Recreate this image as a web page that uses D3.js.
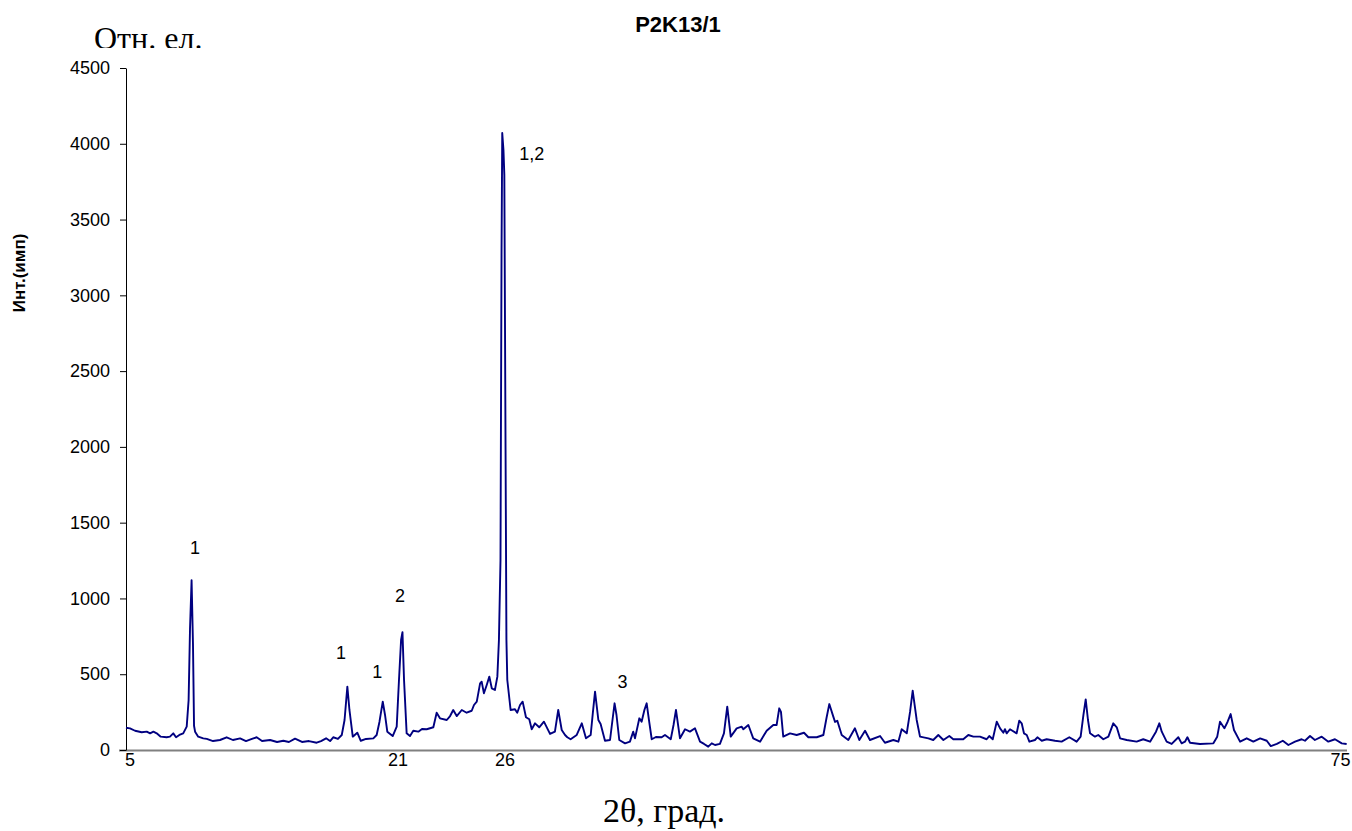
<!DOCTYPE html>
<html>
<head>
<meta charset="utf-8">
<script src="https://cdn.jsdelivr.net/npm/d3@7"></script>
<style>
	html, body { margin: 0; padding: 0; background: #fff; }
	#chart-area svg { display: block; }
</style>
</head>
<body>
<div id="chart-area"></div>
<script>
/* Diffractogram P2K13/1 */

// [2theta, intensity]
const pattern = [
	[5.00,147],[5.23,143],[5.52,127],[5.90,117],[6.19,121],[6.38,110],[6.57,121],[6.76,110],[6.99,88],[7.33,84],
	[7.52,88],[7.71,110],[7.87,84],[8.06,99],[8.28,110],[8.48,154],[8.59,330],[8.67,800],[8.76,1120],[8.84,700],
	[8.90,160],[8.96,121],[9.14,88],[9.43,77],[9.63,73],[9.99,59],[10.39,66],[10.77,84],[11.13,66],[11.54,77],
	[11.88,59],[12.22,73],[12.49,84],[12.80,59],[13.26,66],[13.66,53],[14.02,61],[14.34,53],[14.69,75],[15.09,53],
	[15.49,59],[15.93,48],[16.18,59],[16.47,77],[16.70,59],[16.88,84],[17.15,73],[17.37,99],[17.53,198],[17.69,418],
	[17.81,264],[18.00,88],[18.26,114],[18.46,61],[18.76,73],[19.18,77],[19.37,99],[19.53,185],[19.72,319],[19.85,231],
	[19.98,121],[20.29,92],[20.52,154],[20.65,462],[20.77,726],[20.85,778],[20.94,462],[21.09,110],[21.28,92],[21.47,127],
	[21.76,121],[21.97,139],[22.24,137],[22.62,150],[22.81,246],[23.00,209],[23.39,198],[23.58,224],[23.76,264],[23.96,224],
	[24.25,264],[24.53,246],[24.82,259],[24.95,297],[25.11,319],[25.30,440],[25.39,451],[25.52,374],[25.68,429],[25.83,484],
	[25.97,407],[26.15,396],[26.29,484],[26.38,726],[26.47,1254],[26.53,3299],[26.57,4071],[26.64,3959],[26.69,3793],[26.76,1979],
	[26.81,726],[26.86,462],[27.05,264],[27.30,269],[27.43,246],[27.59,297],[27.74,319],[27.93,216],[28.12,203],[28.26,137],
	[28.45,176],[28.69,150],[28.96,187],[29.31,106],[29.59,121],[29.78,264],[29.98,132],[30.17,99],[30.30,84],[30.49,71],
	[30.84,99],[31.13,176],[31.37,77],[31.64,99],[31.77,251],[31.89,385],[32.08,198],[32.21,172],[32.46,61],[32.75,66],
	[32.89,198],[33.01,308],[33.12,231],[33.28,66],[33.61,44],[33.89,55],[34.08,121],[34.18,77],[34.43,209],[34.56,187],
	[34.72,264],[34.85,308],[34.98,198],[35.14,71],[35.38,86],[35.71,84],[35.90,99],[36.23,71],[36.39,165],[36.53,264],
	[36.65,165],[36.76,77],[37.05,137],[37.33,121],[37.62,143],[37.91,55],[38.14,40],[38.38,22],[38.58,44],[38.77,33],
	[39.05,40],[39.28,110],[39.47,286],[39.67,88],[40.01,143],[40.30,154],[40.39,137],[40.68,165],[40.96,77],[41.35,55],
	[41.73,127],[42.11,165],[42.30,165],[42.45,275],[42.55,251],[42.68,88],[43.07,110],[43.45,99],[43.87,114],[44.12,84],
	[44.60,84],[44.98,99],[45.16,211],[45.32,303],[45.55,220],[45.65,185],[45.78,193],[46.03,99],[46.41,66],[46.79,143],
	[47.04,66],[47.37,127],[47.65,66],[48.23,92],[48.51,48],[48.99,66],[49.28,55],[49.47,137],[49.76,110],[49.95,251],
	[50.10,391],[50.33,198],[50.52,88],[51.00,77],[51.28,66],[51.57,99],[51.86,66],[52.20,92],[52.43,71],[53.00,71],
	[53.29,99],[53.58,88],[53.96,88],[54.34,71],[54.49,92],[54.69,71],[54.92,187],[55.11,143],[55.30,114],[55.39,137],
	[55.49,110],[55.68,137],[56.06,110],[56.21,193],[56.35,176],[56.48,110],[56.64,99],[56.79,55],[57.11,66],[57.25,84],
	[57.50,61],[57.78,71],[58.26,61],[58.64,55],[59.08,84],[59.50,55],[59.73,88],[59.89,231],[60.02,334],[60.15,198],
	[60.27,110],[60.55,88],[60.74,99],[61.03,71],[61.32,88],[61.60,176],[61.80,150],[61.99,77],[62.37,66],[62.94,55],
	[63.32,71],[63.71,55],[64.05,121],[64.24,176],[64.38,121],[64.66,55],[64.95,40],[65.33,84],[65.52,44],[65.71,55],
	[65.85,84],[66.00,48],[66.57,40],[67.34,44],[67.56,88],[67.72,187],[67.97,143],[68.15,185],[68.33,237],[68.52,132],
	[68.87,55],[69.25,77],[69.63,55],[70.02,77],[70.40,61],[70.63,26],[70.98,40],[71.32,61],[71.64,33],[72.02,55],
	[72.40,71],[72.59,61],[72.88,92],[73.16,66],[73.55,88],[73.93,55],[74.31,71],[74.70,44],[74.98,40]
]

const yTicks = [0, 500, 1000, 1500, 2000, 2500, 3000, 3500, 4000, 4500]

// category-style labels sit a little off their nominal angle
const xTickPos = [5.2, 20.57, 26.7, 74.6]
const xTickLabels = ['5', '21', '26', '75']

// phase labels: text, 2theta, intensity at the text baseline
const peakLabels = [
	{ text: '1', t: 8.96, I: 1293, anchor: 'middle' },
	{ text: '1', t: 17.33, I: 600, anchor: 'middle' },
	{ text: '1', t: 19.41, I: 475, anchor: 'middle' },
	{ text: '2', t: 20.71, I: 978, anchor: 'middle' },
	{ text: '1,2', t: 27.55, I: 3893, anchor: 'start' },
	{ text: '3', t: 33.46, I: 407, anchor: 'middle' }
]

const SANS = '"Liberation Sans", Arial, sans-serif'
const SERIF = '"Liberation Serif", "Times New Roman", serif'

/* Canvas */
const CANVAS_WIDTH = 1352
const CANVAS_HEIGHT = 831
const margin = { top: 68, bottom: 81, left: 126, right: 5 }

const $svg = d3.select('#chart-area')
	.append('svg')
	.attr('width', CANVAS_WIDTH)
	.attr('height', CANVAS_HEIGHT)

const width = CANVAS_WIDTH - margin.left - margin.right
const height = CANVAS_HEIGHT - margin.top - margin.bottom

const $scene = $svg.append('g')
	.attr('transform', `translate(${margin.left}, ${margin.top})`)

/* Scales */
const xScale = d3.scaleLinear()
	.domain([5, 75])
	.range([0, width])

const yScale = d3.scaleLinear()
	.domain([0, 4500])
	.range([height, 0])

/* Axes */
const yAxisCall = d3.axisLeft(yScale)
	.tickValues(yTicks)
	.tickFormat(d3.format('d'))
	.tickSizeInner(6)
	.tickSizeOuter(0)
	.tickPadding(10)

const xAxisCall = d3.axisBottom(xScale)
	.tickValues(xTickPos)
	.tickFormat((d, i) => xTickLabels[i])
	.tickSize(0)
	.tickPadding(3)

const $xAxisGroup = $scene.append('g')
	.attr('transform', `translate(0, ${height})`)
	.call(xAxisCall)
$xAxisGroup.select('.domain').remove()
$xAxisGroup.insert('line', ':first-child')
	.attr('x1', -7)
	.attr('x2', width)
	.attr('y1', 0.5)
	.attr('y2', 0.5)
	.attr('stroke', '#808080')
	.attr('stroke-width', 2)
$xAxisGroup.selectAll('text')
	.attr('font-family', SANS)
	.attr('font-size', 18)
	.attr('fill', '#000')

const $yAxisGroup = $scene.append('g')
	.call(yAxisCall)
$yAxisGroup.selectAll('line, path').attr('stroke', '#000')
$yAxisGroup.selectAll('text')
	.attr('font-family', SANS)
	.attr('font-size', 18)
	.attr('fill', '#000')

/* Trace */
const line = d3.line()
	.x(d => xScale(d[0]))
	.y(d => yScale(d[1]))

$scene.append('path')
	.datum(pattern)
	.attr('fill', 'none')
	.attr('stroke', '#000080')
	.attr('stroke-width', 1.9)
	.attr('stroke-linejoin', 'round')
	.attr('d', line)

/* Peak labels */
$scene.selectAll('.peak-label')
	.data(peakLabels)
	.enter()
	.append('text')
	.attr('class', 'peak-label')
	.attr('x', d => xScale(d.t))
	.attr('y', d => yScale(d.I))
	.attr('text-anchor', d => d.anchor)
	.attr('font-family', SANS)
	.attr('font-size', 18)
	.text(d => d.text)

/* Titles */
$svg.append('text')
	.attr('x', 678)
	.attr('y', 32)
	.attr('text-anchor', 'middle')
	.attr('font-family', SANS)
	.attr('font-weight', 'bold')
	.attr('font-size', 22)
	.text('P2K13/1')

$svg.append('text')
	.attr('transform', 'translate(25, 273) rotate(-90)')
	.attr('text-anchor', 'middle')
	.attr('font-family', SANS)
	.attr('font-weight', 'bold')
	.attr('font-size', 17)
	.text('Инт.(имп)')

// the unit caption is cut at its baseline in the original
$svg.append('clipPath')
	.attr('id', 'unit-clip')
	.append('rect')
	.attr('x', 0)
	.attr('y', 0)
	.attr('width', 300)
	.attr('height', 48)

$svg.append('text')
	.attr('x', 94)
	.attr('y', 49)
	.attr('clip-path', 'url(#unit-clip)')
	.attr('font-family', SERIF)
	.attr('font-size', 32)
	.text('Отн. ел.')

$svg.append('text')
	.attr('x', 664)
	.attr('y', 822)
	.attr('text-anchor', 'middle')
	.attr('font-family', SERIF)
	.attr('font-size', 34)
	.text('2θ, град.')
</script>
</body>
</html>
